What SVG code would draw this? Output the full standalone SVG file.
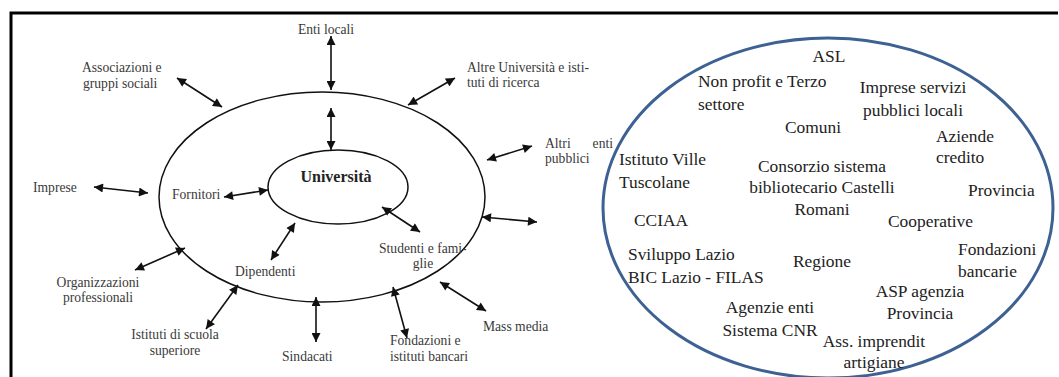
<svg xmlns="http://www.w3.org/2000/svg" width="1059" height="377" viewBox="0 0 1059 377">
<defs>
<marker id="ah" viewBox="0 0 10 10" refX="10" refY="5" markerWidth="10" markerHeight="9" markerUnits="userSpaceOnUse" orient="auto-start-reverse">
<path d="M0,0 L10,5 L0,10 z" fill="#111"/>
</marker>
<style>
.lt{font-size:13.6px;fill:#3a3a3a}
.rt{font-size:17.4px;fill:#222}
.c{text-anchor:middle}
.ar{stroke:#111;stroke-width:1.6;fill:none;marker-start:url(#ah);marker-end:url(#ah)}
.el{fill:none;stroke:#111;stroke-width:1.5}
</style>
</defs>
<rect width="1059" height="377" fill="#fff"/>
<g id="frame"><path d="M11,377 V13 H1058" fill="none" stroke="#000" stroke-width="3"/></g>
<g font-family="Liberation Serif, Times New Roman, serif">
<g id="outer"><ellipse class="el" cx="322" cy="197" rx="163" ry="105"/></g>
<g id="universita"><ellipse class="el" cx="338" cy="187" rx="70" ry="37"/>
<text x="336" y="182" font-weight="bold" font-size="16" fill="#222" text-anchor="middle">Università</text></g>
<g id="connectors">
<line class="ar" x1="331" y1="36" x2="331" y2="90"/>
<line class="ar" x1="331" y1="108" x2="331" y2="150"/>
<line class="ar" x1="177" y1="78" x2="222" y2="107"/>
<line class="ar" x1="455" y1="78" x2="408" y2="105"/>
<line class="ar" x1="532" y1="146" x2="487" y2="160"/>
<line class="ar" x1="94" y1="187" x2="148" y2="193"/>
<line class="ar" x1="224" y1="197" x2="268" y2="190"/>
<line class="ar" x1="295" y1="223" x2="271" y2="260"/>
<line class="ar" x1="135" y1="270" x2="185" y2="248"/>
<line class="ar" x1="206" y1="329" x2="238" y2="285"/>
<line class="ar" x1="316" y1="297" x2="316" y2="342"/>
<line class="ar" x1="393" y1="287" x2="407" y2="338"/>
<line class="ar" x1="440" y1="282" x2="486" y2="311"/>
<line class="ar" x1="382" y1="207" x2="420" y2="232"/>
<line class="ar" x1="482" y1="217" x2="537" y2="222"/>
</g>
<g id="enti-locali"><text class="lt c" x="326" y="34">Enti locali</text></g>
<g id="associazioni"><text class="lt" x="82" y="72">Associazioni e</text><text class="lt" x="83" y="88">gruppi sociali</text></g>
<g id="altre-universita"><text class="lt" x="467" y="72">Altre Università e isti-</text><text class="lt" x="467" y="87">tuti di ricerca</text></g>
<g id="altri-enti"><text class="lt" x="545" y="148">Altri</text><text class="lt" x="613" y="148" text-anchor="end">enti</text><text class="lt" x="545" y="163">pubblici</text></g>
<g id="imprese"><text class="lt" x="33" y="192">Imprese</text></g>
<g id="fornitori"><text class="lt" x="172" y="199">Fornitori</text></g>
<g id="dipendenti"><text class="lt" x="235" y="276">Dipendenti</text></g>
<g id="organizzazioni"><text class="lt c" x="98" y="287">Organizzazioni</text><text class="lt c" x="98" y="302">professionali</text></g>
<g id="istituti-scuola"><text class="lt c" x="175" y="339">Istituti di scuola</text><text class="lt c" x="175" y="355">superiore</text></g>
<g id="sindacati"><text class="lt" x="282" y="361">Sindacati</text></g>
<g id="fondazioni-istituti"><text class="lt" x="390" y="345">Fondazioni e</text><text class="lt" x="390" y="361">istituti bancari</text></g>
<g id="mass-media"><text class="lt" x="483" y="331">Mass media</text></g>
<g id="studenti"><text class="lt" x="379" y="253">Studenti e fami-</text><text class="lt c" x="423" y="268">glie</text></g>
<g id="territorio">
<ellipse cx="828" cy="208" rx="225" ry="170" fill="none" stroke="#3d6193" stroke-width="3"/>
<text class="rt c" x="829" y="62">ASL</text>
<text class="rt" x="698" y="87">Non profit e Terzo</text><text class="rt" x="698" y="110">settore</text>
<text class="rt c" x="913" y="93">Imprese servizi</text><text class="rt c" x="913" y="116">pubblici locali</text>
<text class="rt c" x="813" y="133">Comuni</text>
<text class="rt" x="936" y="142">Aziende</text><text class="rt" x="936" y="163">credito</text>
<text class="rt" x="619" y="165">Istituto Ville</text><text class="rt" x="619" y="188">Tuscolane</text>
<text class="rt c" x="822" y="172">Consorzio sistema</text><text class="rt c" x="822" y="193">bibliotecario Castelli</text><text class="rt c" x="822" y="215">Romani</text>
<text class="rt" x="968" y="196">Provincia</text>
<text class="rt" x="634" y="226">CCIAA</text>
<text class="rt" x="888" y="227">Cooperative</text>
<text class="rt" x="628" y="260">Sviluppo Lazio</text><text class="rt" x="628" y="283">BIC Lazio - FILAS</text>
<text class="rt" x="793" y="267">Regione</text>
<text class="rt" x="958" y="255">Fondazioni</text><text class="rt" x="958" y="277">bancarie</text>
<text class="rt c" x="920" y="297">ASP agenzia</text><text class="rt c" x="920" y="319">Provincia</text>
<text class="rt c" x="770" y="313">Agenzie enti</text><text class="rt c" x="770" y="336">Sistema CNR</text>
<text class="rt c" x="874" y="347">Ass. imprendit</text><text class="rt c" x="874" y="368">artigiane</text>
</g>
</g>
</svg>
